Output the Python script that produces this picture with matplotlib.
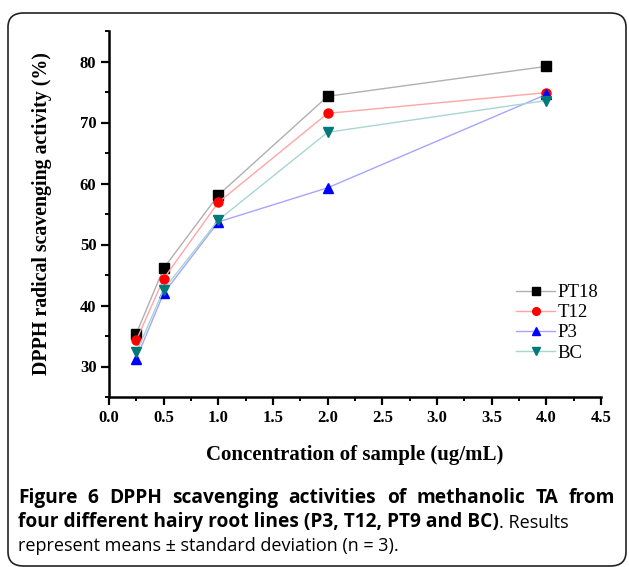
import numpy as np
import matplotlib
matplotlib.use('Agg')
import matplotlib.pyplot as plt
from matplotlib.patches import FancyBboxPatch
from matplotlib.ticker import MultipleLocator

# concentration (ug/mL)
conc = [0.25, 0.5, 1.0, 2.0, 4.0]
pt18 = [35.4, 46.1, 58.1, 74.3, 79.2]
t12 = [34.3, 44.4, 56.9, 71.5, 74.9]
p3 = [31.3, 42.0, 53.7, 59.3, 74.6]
bc = [32.3, 42.6, 54.0, 68.4, 73.6]
names = ['PT18', 'T12', 'P3', 'BC']

serif = 'Liberation Serif'
cap_font = 'Open Sans'

fig = plt.figure(figsize=(6.29, 5.67), dpi=100)

# rounded frame around figure + caption
frame = FancyBboxPatch((8/629, 1-566/567), 618/629, 553/567,
                       boxstyle='round,pad=0,rounding_size=0.025',
                       transform=fig.transFigure, fill=False,
                       edgecolor='#222222', linewidth=1.2)
fig.patches.append(frame)

ax = fig.add_axes([109/629, 1-397/567, 492/629, 366/567])

styles = [
    ('#b0b0b0', 'black', 's'),
    ('#ffa5a5', 'red', 'o'),
    ('#a5a5ff', 'blue', '^'),
    ('#a8d6d2', '#007a78', 'v'),
]
for ys, name, (lc, mc, mk) in zip([pt18, t12, p3, bc], names, styles):
    ax.plot(conc, ys, color=lc, lw=1.0, marker=mk, markersize=6.5,
            markerfacecolor=mc, markeredgecolor=mc, label=name)

ax.set_xlim(0, 4.5)
ax.set_ylim(25, 85)
ax.xaxis.set_minor_locator(MultipleLocator(0.25))
ax.yaxis.set_minor_locator(MultipleLocator(5))
ax.set_yticks([30, 40, 50, 60, 70, 80])
ax.set_xticks(np.arange(0, 4.51, 0.5))
ax.set_xticklabels([f'{v:.1f}' for v in np.arange(0, 4.51, 0.5)])

for s in ['top', 'right']:
    ax.spines[s].set_visible(False)
for s in ['left', 'bottom']:
    ax.spines[s].set_linewidth(1.8)
ax.tick_params(which='major', direction='out', length=6, width=1.6, pad=3)
ax.tick_params(which='minor', direction='out', length=3, width=1.4)
for lab in ax.get_xticklabels() + ax.get_yticklabels():
    lab.set_fontfamily(serif)
    lab.set_fontweight('bold')
    lab.set_fontsize(12)

ax.set_xlabel('Concentration of sample (ug/mL)', family=serif,
              fontweight='bold', fontsize=15, labelpad=14)
ax.set_ylabel('DPPH radical scavenging activity (%)', family=serif,
              fontweight='bold', fontsize=14.3, labelpad=20)

ax.legend(loc='upper left', bbox_to_anchor=(516/629, 1-284/567),
          bbox_transform=fig.transFigure, frameon=False,
          prop={'family': serif, 'size': 13.5}, handlelength=2.1,
          handletextpad=0.1, labelspacing=0.16, borderpad=0,
          borderaxespad=0, markerscale=0.85)

# caption
cap_size = 13.8
x0, x1 = 18/629, 615/629
words = 'Figure 6 DPPH scavenging activities of methanolic TA from'.split()
fig.canvas.draw()
r = fig.canvas.get_renderer()
wt = []
for w in words:
    t = fig.text(0, 1-498/567, w, family=cap_font, fontweight='bold',
                 fontsize=cap_size, va='center')
    wt.append(t)
widths = [t.get_window_extent(r).width / fig.bbox.width for t in wt]
gap = (x1 - x0 - sum(widths)) / (len(words) - 1)
xpos = x0
for t, w in zip(wt, widths):
    t.set_x(xpos)
    xpos += w + gap

t2 = fig.text(x0, 1-522/567,
              'four different hairy root lines (P3, T12, PT9 and BC)',
              family=cap_font, fontweight='bold', fontsize=cap_size,
              va='center')
ax.annotate('. Results', xy=(1, 0), xycoords=t2, va='bottom', ha='left',
            family=cap_font, fontsize=13, annotation_clip=False)
fig.text(x0, 1-546/567,
         'represent means \u00b1 standard deviation (n = 3).',
         family=cap_font, fontsize=13, va='center')

fig.savefig('out.png', dpi=100)
